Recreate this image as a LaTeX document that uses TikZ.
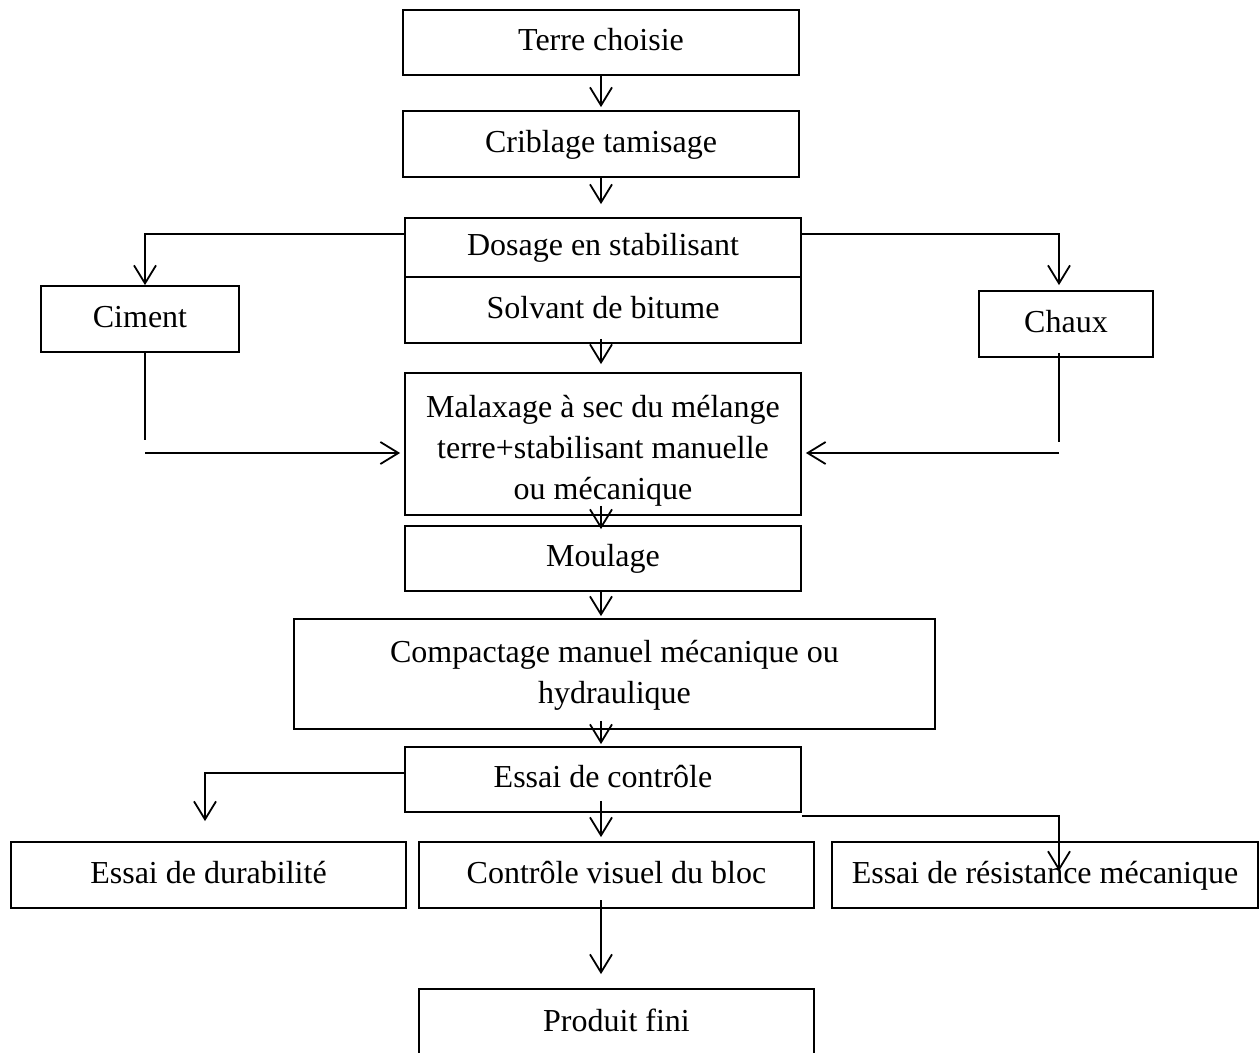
\documentclass[tikz,border=0pt]{standalone}
\usepackage{fontspec}
\setmainfont{Liberation Serif}
\usetikzlibrary{arrows.meta}
\begin{document}
\begin{tikzpicture}[x=1pt,y=-1pt,
  txt/.style={align=center, inner sep=0pt,
    font=\fontsize{32}{41}\selectfont, execute at begin node=\strut},
  box/.style={txt, draw, line width=1.8pt},
  arr/.style={line width=1.8pt, -{Straight Barb[length=18pt,width=22pt,line width=1.8pt]}},
  ln/.style={line width=1.6pt}]
\useasboundingbox (0,0) rectangle (1260,1052);
\fill[white] (0,0) rectangle (1260,1052);
\clip (0,0) rectangle (1260,1052);

\node[box, minimum width=396pt, minimum height=65pt] (T) at (601,42.5) {Terre choisie};
\node[box, minimum width=396pt, minimum height=66pt] (C) at (601,144) {Criblage tamisage};
\node[box, minimum width=396pt, minimum height=59pt] (D) at (603,247.5) {Dosage en stabilisant};
\node[box, minimum width=396pt, minimum height=66pt] (S) at (603,310) {Solvant de bitume};
\node[box, minimum width=396pt, minimum height=142pt] (M) at (603,444) {};
\node[txt] (Mt) at (603,453.5) {Malaxage à sec du mélange\\terre+stabilisant manuelle\\ou mécanique};
\node[box, minimum width=396pt, minimum height=65pt] (Mo) at (603,558.5) {Moulage};
\node[box, minimum width=641pt, minimum height=110pt] (Co) at (614.5,674) {};
\node[txt] (Cot) at (614.5,678) {Compactage manuel mécanique ou\\hydraulique};
\node[box, minimum width=396pt, minimum height=65pt] (E) at (603,779.5) {Essai de contrôle};
\node[box, minimum width=198pt, minimum height=66pt] (Ci) at (140,319) {Ciment};
\node[box, minimum width=174pt, minimum height=66pt] (Ch) at (1066,324) {Chaux};
\node[box, minimum width=395pt, minimum height=66pt] (Du) at (208.5,875) {Essai de durabilité};
\node[box, minimum width=395pt, minimum height=66pt] (V) at (616.5,875) {Contrôle visuel du bloc};
\node[box, minimum width=426pt, minimum height=66pt] (R) at (1045,875) {Essai de résistance mécanique};
\node[box, minimum width=395pt, minimum height=68pt] (P) at (616.5,1023) {Produit fini};

\coordinate (cl) at (145,440);
\coordinate (cla) at (145,453);
\coordinate (cr) at (1059,442);
\coordinate (cra) at (1059,453);
\coordinate (rt) at (1059,871);
\coordinate (vx) at (601,900);

% main chain
\draw[arr, shorten >=3pt] (T.south) -- (C.north);
\draw[arr, shorten >=13pt] (C.south) -- (C.south |- D.north);
\draw[arr, shorten <=-5pt, shorten >=8pt] (S.south -| C.south) -- (C.south |- M.north);
\draw[arr, shorten <=-10pt, shorten >=-4pt] (M.south -| C.south) -- (C.south |- Mo.north);
\draw[arr, shorten >=2pt] (Mo.south -| C.south) -- (C.south |- Co.north);
\draw[arr, shorten <=-9pt, shorten >=2pt] (Co.south -| C.south) -- (C.south |- E.north);
\draw[arr, shorten <=-12pt, shorten >=4pt] (E.south -| C.south) -- (C.south |- V.north);
\draw[arr, shorten >=14pt] (vx) -- (vx |- P.north);

% stabilisant branches
\draw[arr, ln] ([yshift=13.5pt]D.west) -| ([xshift=5pt]Ci.north);
\draw[ln] ([xshift=5pt]Ci.south) -- (cl);
\draw[arr, shorten >=4pt] (cla) -- (M.west |- cla);
\draw[arr, ln, shorten >=5pt] ([yshift=13.5pt]D.east) -| ([xshift=-7pt]Ch.north);
\draw[ln] ([xshift=-7pt,yshift=5pt]Ch.south) -- (cr);
\draw[arr, shorten >=4pt] (cra) -- (M.east |- cra);

% essai branches
\draw[arr, ln, shorten >=20pt] ([yshift=6.5pt]E.west) -| ([xshift=-3.5pt]Du.north);
\draw[arr, ln] ([yshift=-3pt]E.south east) -| (rt);
\end{tikzpicture}
\end{document}
